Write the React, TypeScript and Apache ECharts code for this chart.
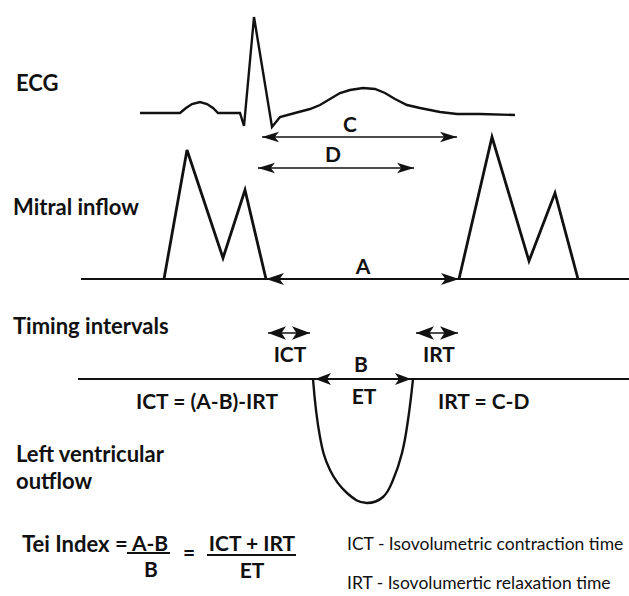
import React, { useEffect, useRef } from "react";
import * as echarts from "echarts";

// ECG trace (time, amplitude) in the diagram's coordinate space
const ecgTrace: number[][] = [
  [140, 113], [180, 113], [186, 108], [192, 104], [200, 102], [207, 104], [213, 108], [218, 113],
  [240, 113], [244, 126], [254, 17], [272, 127], [280, 117], [295, 113], [310, 109], [320, 105],
  [330, 99], [340, 93], [350, 90], [363, 88], [375, 89], [385, 93], [395, 99], [407, 105],
  [420, 108], [440, 112], [457, 114], [480, 114], [515, 115],
];
// Mitral inflow E/A waves
const mitralBeat1: number[][] = [[164, 279], [187, 150], [223, 258], [245, 190], [266, 279]];
const mitralBeat2: number[][] = [[459, 279], [492, 137], [529, 261], [555, 193], [578, 279]];
const mitralBaseline: number[][] = [[81, 279], [629, 279]];
// Left ventricular outflow
const lvBaseline: number[][] = [[78, 379], [629, 379]];
const lvOutflow: number[][] = [
  [313, 379], [320, 437], [330, 470], [347, 493], [367, 503], [383, 497], [393, 480],
  [402, 453], [408, 420], [413, 379],
];
// Interval arrows: [start, end, level]
const intervalC = [262, 457, 137];
const intervalD = [258, 414, 168];
const intervalA = [266, 459, 279];
const intervalB = [315, 411, 379];
const intervalICT = [268, 310, 333];
const intervalIRT = [416, 458, 333];

export default function App() {
  const ref = useRef<HTMLDivElement>(null);
  useEffect(() => {
    if (!ref.current) return;
    const chart = echarts.init(ref.current, null, { renderer: "svg" });
    const ink = "#111";
    const font = "Lato";
    const txt = (text: string, x: number, y: number, size: number, weight: string | number = "bold", align = "left") => ({
      type: "text",
      x,
      y,
      style: {
        text,
        fill: ink,
        font: `${weight} ${size}px ${font}`,
        align,
        verticalAlign: "middle",
      },
    });
    const arrow = (iv: number[], head: number[]) => ({
      type: "line",
      data: [],
      silent: true,
      markLine: {
        silent: true,
        animation: false,
        symbol: ["arrow", "arrow"],
        symbolSize: head,
        label: { show: false },
        lineStyle: { color: ink, width: 1.6, type: "solid" },
        emphasis: { disabled: true },
        data: [[{ coord: [iv[0], iv[2]] }, { coord: [iv[1], iv[2]] }]],
      },
    });
    const trace = (data: number[][], width: number, smooth: number | boolean = false) => ({
      type: "line",
      data,
      smooth,
      symbol: "none",
      silent: true,
      lineStyle: { color: ink, width, join: "miter" },
    });
    chart.setOption({
      animation: false,
      backgroundColor: "#fff",
      grid: { left: 0, right: 0, top: 0, bottom: 0 },
      xAxis: { type: "value", min: 0, max: 629, show: false },
      yAxis: { type: "value", min: 0, max: 596, inverse: true, show: false },
      series: [
        trace(ecgTrace, 2.4),
        trace(mitralBaseline, 2),
        trace(mitralBeat1, 2.8),
        trace(mitralBeat2, 2.8),
        trace(lvBaseline, 2),
        trace(lvOutflow, 2.4, 0.4),
        arrow(intervalC, [8, 17]),
        arrow(intervalD, [8, 17]),
        arrow(intervalA, [9, 18]),
        arrow(intervalB, [9, 16]),
        arrow(intervalICT, [10, 18]),
        arrow(intervalIRT, [10, 18]),
      ],
      graphic: [
        txt("ECG", 16, 82, 22),
        txt("Mitral inflow", 13, 206, 22),
        txt("Timing intervals", 13, 325, 22),
        txt("Left ventricular", 16, 453, 22),
        txt("outflow", 16, 480, 22),
        txt("C", 350, 123, 21, "bold", "center"),
        txt("D", 333, 153, 21, "bold", "center"),
        txt("A", 363, 265, 21, "bold", "center"),
        txt("ICT", 290, 353, 21, "bold", "center"),
        txt("IRT", 439, 353, 21, "bold", "center"),
        txt("B", 361, 363, 21, "bold", "center"),
        txt("ET", 364, 395, 21, "bold", "center"),
        txt("ICT = (A-B)-IRT", 136, 400, 21, "bold"),
        txt("IRT = C-D", 438, 400, 21, "bold"),
        txt("Tei Index =", 22, 543, 22, "bold"),
        txt("A-B", 150, 542, 21, "bold", "center"),
        txt("B", 151, 568, 21, "bold", "center"),
        txt("=", 189, 551, 21, "bold", "center"),
        txt("ICT + IRT", 252, 542, 21, "bold", "center"),
        txt("ET", 252, 569, 21, "bold", "center"),
        { type: "line", shape: { x1: 127, y1: 553, x2: 170, y2: 553 }, style: { stroke: ink, lineWidth: 1.8 } },
        { type: "line", shape: { x1: 207, y1: 555, x2: 296, y2: 555 }, style: { stroke: ink, lineWidth: 1.8 } },
        txt("ICT - Isovolumetric contraction time", 347, 543, 17.5, "normal"),
        txt("IRT - Isovolumertic relaxation time", 347, 582, 17.5, "normal"),
      ],
    });
    return () => chart.dispose();
  }, []);
  return (
    <div
      ref={ref}
      style={{ position: "absolute", left: 0, top: 0, width: 629, height: 596, background: "#fff" }}
    />
  );
}
